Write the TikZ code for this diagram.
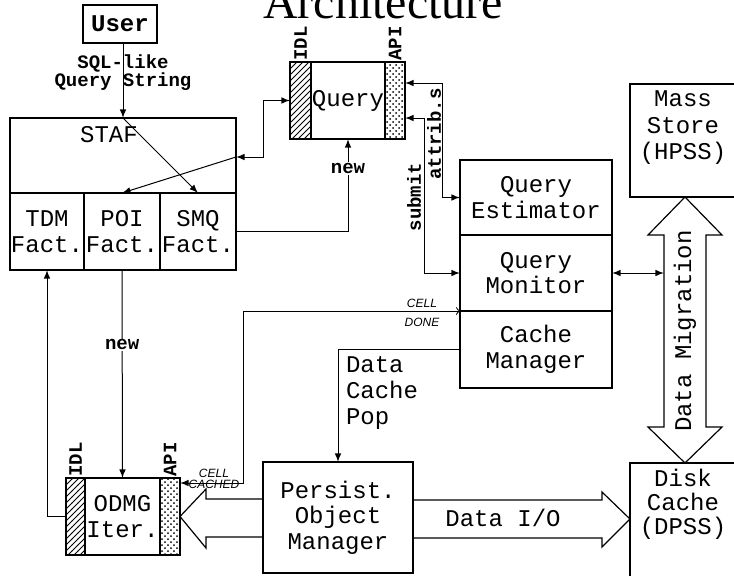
\documentclass[tikz,border=0pt]{standalone}
\usepackage{fontspec}
\setmainfont{Liberation Serif}
\setsansfont{Liberation Sans}
\setmonofont{Liberation Mono}
\usetikzlibrary{arrows,patterns}
\tikzstyle{box}=[draw,line width=0.6pt,inner sep=0pt,outer sep=0pt,align=center,font=\ttfamily\fontsize{12}{12.8}\selectfont]
\tikzstyle{idlbar}=[draw,line width=0.6pt,inner sep=0pt,outer sep=0pt,pattern=north east lines]
\tikzstyle{apibar}=[draw,line width=0.6pt,inner sep=0pt,outer sep=0pt,pattern=crosshatch dots]
\tikzstyle{tag}=[font=\ttfamily\bfseries\fontsize{9.5}{9}\selectfont,inner sep=0.5pt,align=center]
\tikzstyle{flow}=[line width=0.5pt,-latex]
\tikzstyle{scrawl}=[font=\sffamily\itshape\fontsize{6}{5.5}\selectfont,inner sep=0pt,align=center]
\tikzstyle{fat}=[line width=0.6pt]

\begin{document}
\begin{tikzpicture}[x=0.5pt,y=-0.5pt]
\useasboundingbox (0,0) rectangle (734,575);
\node[font=\rmfamily\fontsize{24}{24}\selectfont,anchor=base] (title) at (383,18) {Architecture};

% user + STAF with its factories
\node[box,font=\ttfamily\bfseries\fontsize{12}{12}\selectfont,minimum width=37pt,minimum height=19pt] (user) at (120,24) {User};
\node[box,minimum width=113pt,minimum height=76pt] (staf) at (123,194) {};
\node[box,draw=none] (staflbl) at (109,135) {STAF};
\node[box,minimum width=37pt,minimum height=38.5pt] (tdm) at (47,231.5) {TDM\\Fact.};
\node[box,minimum width=38pt,minimum height=38.5pt] (poi) at (122,231.5) {POI\\Fact.};
\node[box,minimum width=38pt,minimum height=38.5pt] (smq) at (198,231.5) {SMQ\\Fact.};

% query object
\node[idlbar,minimum width=10.5pt,minimum height=38.5pt] (qidl) at (300.5,100.5) {};
\node[box,minimum width=37pt,minimum height=38.5pt] (qbox) at (348,100.5) {Query};
\node[apibar,minimum width=10pt,minimum height=38.5pt] (qapi) at (395,100.5) {};
\node[tag,rotate=90,anchor=west] (qidlt) at (qidl.north) {IDL};
\node[tag,rotate=90,anchor=west] (qapit) at (qapi.north) {API};

% query estimator / monitor / cache manager
\node[box,minimum width=76pt,minimum height=37.5pt] (est) at (536,197.5) {Query\\Estimator};
\node[box,minimum width=76pt,minimum height=38pt] (mon) at (536,273) {Query\\Monitor};
\node[box,minimum width=76pt,minimum height=38.5pt] (cache) at (536,349.5) {Cache\\Manager};

% storage
\node[box,minimum width=57.5pt,minimum height=56.5pt] (mass) at (687.5,140.5) {};
\node[box,draw=none,anchor=north,font=\ttfamily\fontsize{12}{13.2}\selectfont] (masstxt) at (683,91) {Mass\\Store\\(HPSS)};
\node[box,minimum width=57.5pt,minimum height=63.5pt] (disk) at (687.5,526.5) {};
\node[box,draw=none,anchor=north,font=\ttfamily\fontsize{12}{12}\selectfont] (disktxt) at (683,469) {Disk\\Cache\\(DPSS)};

% ODMG iterator
\node[idlbar,minimum width=9.5pt,minimum height=38.5pt] (oidl) at (75.5,516.5) {};
\node[box,minimum width=37.5pt,minimum height=38.5pt] (omain) at (122.5,516.5) {ODMG\\Iter.};
\node[apibar,minimum width=10pt,minimum height=38.5pt] (oapi) at (170,516.5) {};
\node[tag,rotate=90,anchor=west] (oidlt) at (oidl.north) {IDL};
\node[tag,rotate=90,anchor=west] (oapit) at (oapi.north) {API};

\node[box,minimum width=75pt,minimum height=55.5pt] (pom) at (338,517.5) {Persist.\\Object\\Manager};

\coordinate (stafin) at (staf.east |- 0,157);
\coordinate (apiA) at (qapi.east |- 0,83);
\coordinate (apiB) at (qapi.east |- 0,118);
\coordinate (oport) at (oapi.east |- 0,483);
\coordinate (migL) at (664,273);

% connectors
\draw[flow] (user.south -| staf.north) -- node[tag,pos=0.4] (sqltxt) {SQL-like\\Query String} (staf.north);
\draw[flow] (staf.north) -- (smq.north);
\draw[flow,latex-latex] (stafin) -- ++(27,0) |- (qidl.west);
\draw[flow] (stafin) -- (poi.north);
\draw[flow] (smq.east) -| node[tag,fill=white,pos=0.84] (new1) {new} (qbox.south);
\draw[flow,latex-latex] (apiA) -- ++(37,0) |- (est.west);
\draw[flow,latex-latex] (apiB) -- ++(19,0) |- (mon.west);
\node[tag,rotate=90] (attr) at (434,134) {attrib.s};
\node[tag,rotate=90] (subm) at (414,197) {submit};
\draw[flow,latex-latex] (mon.east) -- (migL);
\draw[flow] (cache.west) -| (pom.north);
\node[box,draw=none,anchor=north west,align=left] (pop) at (346,357) {Data\\Cache\\Pop};
\draw[flow,latex-to] (oport) -- ++(63,0) |- (cache.north west);
\node[scrawl] (cdone) at (422,313) {CELL\\[4pt]DONE};
\node[scrawl] (ccached) at (214,479) {CELL\\CACHED};
\draw[flow] (poi.south) -- node[tag,fill=white,pos=0.36] (new2) {new} (omain.north);
\draw[flow] (oidl.west) -| (tdm.south);

% hollow arrows
\draw[fat] (pom.west |- 0,499) -- (206,499) -- (206,489) -- (oapi.east) -- (206,548) -- (206,537) -- (pom.west |- 0,537);
\draw[fat] (pom.east |- 0,500) -- (602,500) -- (602,492) -- (disk.west |- 0,519) -- (602,547) -- (602,538) -- (pom.east |- 0,538);
\node[box,draw=none] (dataio) at (503,518) {Data I/O};
\draw[fat] (685,197) -- (722,235) -- (706,235) -- (706,427) -- (722,427) -- (685,463)
  -- (648,427) -- (664,427) -- (664,235) -- (648,235) -- cycle;
\node[box,draw=none,rotate=90] (migtxt) at (685,331) {Data Migration};
\end{tikzpicture}
\end{document}
